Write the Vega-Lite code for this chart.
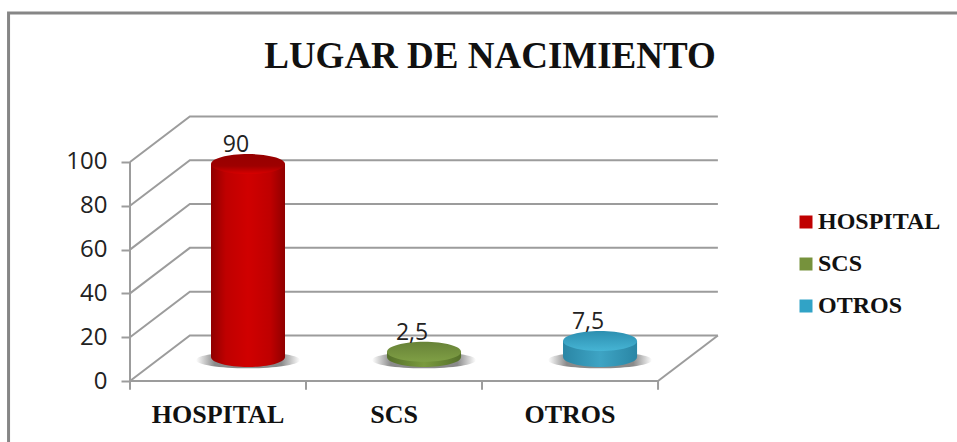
{"$schema":"https://vega.github.io/schema/vega-lite/v6.json","autosize":"none","width":590,"height":265,"padding":{"left":130,"top":116,"right":237,"bottom":61},"background":"white","view":{"stroke":null},
"config":{"scale":{"continuousPadding":0}},
"title":{"text":"LUGAR DE NACIMIENTO","font":"Liberation Serif","fontWeight":"bold","fontSize":37,"color":"#111111","anchor":"middle","dx":65,"offset":-69},
"datasets":{"datos":[{"lugar":"HOSPITAL","orden":0.5,"valor":90,"etiqueta":"90"},{"lugar":"SCS","orden":1.5,"valor":2.5,"etiqueta":"2,5"},{"lugar":"OTROS","orden":2.5,"valor":7.5,"etiqueta":"7,5"}],
"marco":[{"g":"m","x":-0.69,"y":-28},{"g":"m","x":-0.69,"y":168},{"g":"m","x":4.7,"y":168}],
"rejilla":[
{"g":"v","x":0,"y":0},{"g":"v","x":0,"y":100},
{"g":"f","x":0,"y":0},{"g":"f","x":3,"y":0},
{"g":"r","x":3,"y":0},{"g":"r","x":3.34,"y":20.8},
{"g":"l","x":0,"y":0},{"g":"l","x":0.34,"y":20.8},{"g":"l","x":3.34,"y":20.8},
{"g":"a","x":0,"y":20},{"g":"a","x":0.34,"y":40.8},{"g":"a","x":3.34,"y":40.8},
{"g":"b","x":0,"y":40},{"g":"b","x":0.34,"y":60.8},{"g":"b","x":3.34,"y":60.8},
{"g":"c","x":0,"y":60},{"g":"c","x":0.34,"y":80.8},{"g":"c","x":3.34,"y":80.8},
{"g":"d","x":0,"y":80},{"g":"d","x":0.34,"y":100.8},{"g":"d","x":3.34,"y":100.8},
{"g":"e","x":0,"y":100},{"g":"e","x":0.34,"y":120.8},{"g":"e","x":3.34,"y":120.8},
{"g":"t0","x":0,"y":0},{"g":"t0","x":0,"y":-4},
{"g":"t1","x":1,"y":0},{"g":"t1","x":1,"y":-4},
{"g":"t2","x":2,"y":0},{"g":"t2","x":2,"y":-4},
{"g":"t3","x":3,"y":0},{"g":"t3","x":3,"y":-4}]},
"layer":[
{"data":{"name":"marco"},"mark":{"type":"line","stroke":"#868686","strokeWidth":3,"clip":false},
"encoding":{"detail":{"field":"g"},"order":null,"x":{"field":"x","type":"quantitative","scale":{"domain":[0,3.352],"nice":false,"zero":false},"axis":null},"y":{"field":"y","type":"quantitative","scale":{"domain":[0,121],"nice":false},"axis":null}}},
{"data":{"name":"rejilla"},"mark":{"type":"line","stroke":"#9c9c9c","strokeWidth":2,"clip":false},
"encoding":{"detail":{"field":"g"},"order":null,"x":{"field":"x","type":"quantitative","scale":{"domain":[0,3.352],"nice":false,"zero":false},"axis":null},"y":{"field":"y","type":"quantitative","scale":{"domain":[0,121],"nice":false},"axis":{"values":[0,20,40,60,80,100],"grid":false,"domain":false,"tickColor":"#9c9c9c","tickWidth":2,"tickSize":9,"labelPadding":14,"labelFont":"Open Sans","labelFontSize":24,"labelColor":"#222222","title":null}}}},
{"data":{"name":"datos"},"mark":{"type":"text","font":"Liberation Serif","fontWeight":"bold","fontSize":26,"color":"#111111","baseline":"middle","clip":false},
"encoding":{"x":{"field":"orden","type":"quantitative","scale":{"domain":[0,3.352],"nice":false,"zero":false},"axis":null},"y":{"datum":-16,"type":"quantitative","scale":{"domain":[0,123.6],"nice":false},"axis":null},"text":{"field":"lugar"}}},
{"data":{"name":"datos"},"mark":{"type":"point","filled":true,"opacity":1,"shape":"M-1,0A1,0.16 0 1,1 1,0A1,0.16 0 1,1 -1,0Z","size":10816,"yOffset":-21,"xOffset":30,"fill":{"gradient":"linear","x1":0,"y1":0,"x2":1,"y2":0,"stops":[{"offset":0,"color":"#ffffff"},{"offset":0.18,"color":"#8a8a8a"},{"offset":0.82,"color":"#8a8a8a"},{"offset":1,"color":"#ffffff"}]}},
"encoding":{"x":{"field":"orden","type":"quantitative","scale":{"domain":[0,3.352],"nice":false,"zero":false},"axis":null},"y":{"datum":0,"type":"quantitative","scale":{"domain":[0,123.6],"nice":false},"axis":null}}},
{"data":{"name":"datos"},"mark":{"type":"bar","width":74,"yOffset":-24,"xOffset":30},
"encoding":{"x":{"field":"orden","type":"quantitative","scale":{"domain":[0,3.352],"nice":false,"zero":false},"axis":null},"y":{"field":"valor","type":"quantitative","scale":{"domain":[0,123.6],"nice":false},"axis":null},
"color":{"field":"lugar","type":"nominal","sort":["HOSPITAL","SCS","OTROS"],"scale":{"domain":["HOSPITAL","SCS","OTROS"],"range":["#c00000","#76923c","#31a3c6"]},"legend":{"title":null,"orient":"none","legendX":664,"legendY":94,"symbolType":"square","symbolSize":169,"symbolStrokeWidth":0,"labelFont":"Liberation Serif","labelFontWeight":"bold","labelFontSize":24,"labelColor":"#111111","labelOffset":0,"rowPadding":18}}}},
{"data":{"name":"datos"},"mark":{"type":"point","filled":true,"opacity":1,"shape":"M-1,0A1,0.27 0 1,1 1,0A1,0.27 0 1,1 -1,0Z","size":5476,"yOffset":-24,"xOffset":30},
"encoding":{"x":{"field":"orden","type":"quantitative","scale":{"domain":[0,3.352],"nice":false,"zero":false},"axis":null},"y":{"datum":0,"type":"quantitative","scale":{"domain":[0,123.6],"nice":false},"axis":null},
"fill":{"condition":[{"test":"datum.lugar=='HOSPITAL'","value":{"gradient":"linear","x1":0,"y1":0,"x2":1,"y2":0,"stops":[{"offset":0,"color":"#8f0000"},{"offset":0.2,"color":"#bf0000"},{"offset":0.5,"color":"#d00000"},{"offset":0.8,"color":"#bf0000"},{"offset":1,"color":"#8f0000"}]}},{"test":"datum.lugar=='SCS'","value":{"gradient":"linear","x1":0,"y1":0,"x2":1,"y2":0,"stops":[{"offset":0,"color":"#55702a"},{"offset":0.5,"color":"#7a9a3e"},{"offset":1,"color":"#55702a"}]}}],"value":{"gradient":"linear","x1":0,"y1":0,"x2":1,"y2":0,"stops":[{"offset":0,"color":"#2a86a5"},{"offset":0.5,"color":"#3ea4c4"},{"offset":1,"color":"#2a86a5"}]}}}},
{"data":{"name":"datos"},"mark":{"type":"bar","width":74,"yOffset":-24,"xOffset":30},
"encoding":{"x":{"field":"orden","type":"quantitative","scale":{"domain":[0,3.352],"nice":false,"zero":false},"axis":null},"y":{"field":"valor","type":"quantitative","scale":{"domain":[0,123.6],"nice":false},"axis":null},
"fill":{"condition":[{"test":"datum.lugar=='HOSPITAL'","value":{"gradient":"linear","x1":0,"y1":0,"x2":1,"y2":0,"stops":[{"offset":0,"color":"#8f0000"},{"offset":0.2,"color":"#bf0000"},{"offset":0.5,"color":"#d00000"},{"offset":0.8,"color":"#bf0000"},{"offset":1,"color":"#8f0000"}]}},{"test":"datum.lugar=='SCS'","value":{"gradient":"linear","x1":0,"y1":0,"x2":1,"y2":0,"stops":[{"offset":0,"color":"#55702a"},{"offset":0.5,"color":"#7a9a3e"},{"offset":1,"color":"#55702a"}]}}],"value":{"gradient":"linear","x1":0,"y1":0,"x2":1,"y2":0,"stops":[{"offset":0,"color":"#2a86a5"},{"offset":0.5,"color":"#3ea4c4"},{"offset":1,"color":"#2a86a5"}]}}}},
{"data":{"name":"datos"},"mark":{"type":"point","filled":true,"opacity":1,"shape":"M-1,0A1,0.27 0 1,1 1,0A1,0.27 0 1,1 -1,0Z","size":5476,"yOffset":-24,"xOffset":30},
"encoding":{"x":{"field":"orden","type":"quantitative","scale":{"domain":[0,3.352],"nice":false,"zero":false},"axis":null},"y":{"field":"valor","type":"quantitative","scale":{"domain":[0,123.6],"nice":false},"axis":null},
"fill":{"condition":[{"test":"datum.lugar=='HOSPITAL'","value":{"gradient":"linear","x1":0,"y1":0,"x2":0,"y2":1,"stops":[{"offset":0,"color":"#960000"},{"offset":0.6,"color":"#9e0000"},{"offset":1,"color":"#d80000"}]}},{"test":"datum.lugar=='SCS'","value":{"gradient":"linear","x1":0,"y1":0,"x2":0,"y2":1,"stops":[{"offset":0,"color":"#678237"},{"offset":1,"color":"#7f9f45"}]}}],"value":{"gradient":"linear","x1":0,"y1":0,"x2":0,"y2":1,"stops":[{"offset":0,"color":"#2c8fb0"},{"offset":1,"color":"#46b4d4"}]}}}},
{"data":{"name":"datos"},"mark":{"type":"text","font":"Open Sans","fontSize":23,"color":"#222222","xOffset":18,"yOffset":-43},
"encoding":{"x":{"field":"orden","type":"quantitative","scale":{"domain":[0,3.352],"nice":false,"zero":false},"axis":null},"y":{"field":"valor","type":"quantitative","scale":{"domain":[0,123.6],"nice":false},"axis":null},"text":{"field":"etiqueta"}}}
],
"resolve":{"scale":{"y":"independent","fill":"independent"}}}
